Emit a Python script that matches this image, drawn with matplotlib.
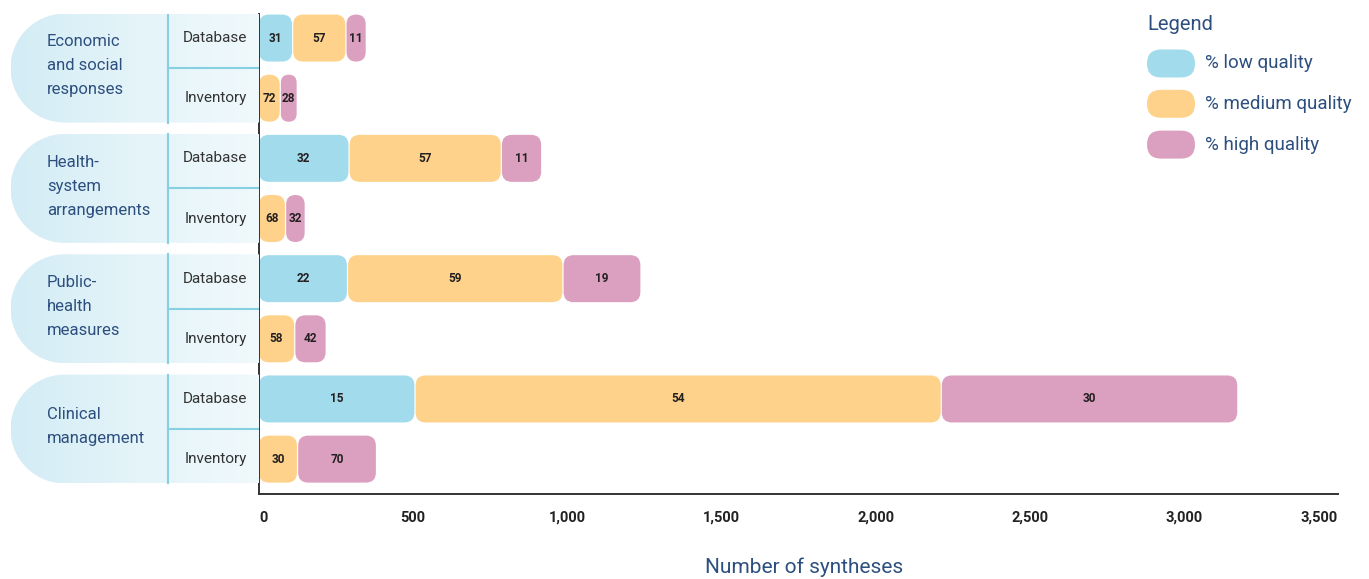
import numpy as np
import matplotlib
matplotlib.use("Agg")
import matplotlib.pyplot as plt
from matplotlib.patches import FancyBboxPatch, Polygon
from matplotlib.colors import LinearSegmentedColormap

plt.rcParams["font.family"] = ["Roboto", "DejaVu Sans"]

# data (segment lengths in number of syntheses)
groups = ["Economic\nand social\nresponses", "Health-\nsystem\narrangements",
          "Public-\nhealth\nmeasures", "Clinical\nmanagement"]
sources = ["Database", "Inventory"]
low = [111, 0, 294, 0, 289, 0, 508, 0]
medium = [173, 71, 494, 88, 699, 118, 1707, 127]
high = [66, 55, 131, 64, 253, 102, 962, 256]
low_pct = [31, None, 32, None, 22, None, 15, None]
medium_pct = [57, 72, 57, 68, 59, 58, 54, 30]
high_pct = [11, 28, 11, 32, 19, 42, 30, 70]
series_names = ["% low quality", "% medium quality", "% high quality"]
xticks = [0, 500, 1000, 1500, 2000, 2500, 3000, 3500]
xtick_labels = ["0", "500", "1,000", "1,500", "2,000", "2,500", "3,000", "3,500"]

colors = ["#a2dcec", "#fed28a", "#dba0c0"]
dark_blue = "#2d4f7f"

W, H = 1369, 579
fig = plt.figure(figsize=(W / 100, H / 100), dpi=100)

# overlay in pixel coords for legend
ov = fig.add_axes([0, 0, 1, 1])
ov.set_xlim(0, W)
ov.set_ylim(H, 0)
ov.axis("off")

ax_left, ax_right, ax_top, ax_bot = 259, 1338, 14, 494
ax = fig.add_axes([ax_left / W, 1 - ax_bot / H, (ax_right - ax_left) / W, (ax_bot - ax_top) / H])
ax.set_xlim(0, 3500)
ax.set_ylim(7.58, -0.40)
ax.patch.set_alpha(0)

px_x = 3500 / (ax_right - ax_left)        # data units per pixel in x
px_y = (7.58 + 0.40) / (ax_bot - ax_top)  # rows per pixel
aspect = px_y / px_x
radius = 10 * px_x
bar_h = 47 * px_y
gap = 1.2 * px_x

n = len(medium)
for i in range(n):
    left = 0
    vals = [low[i], medium[i], high[i]]
    labs = [low_pct[i], medium_pct[i], high_pct[i]]
    for v, lab, c in zip(vals, labs, colors):
        if v <= 0:
            continue
        w = v - gap
        rs = min(radius, w / 2)
        p = FancyBboxPatch((left, i - bar_h / 2), w, bar_h,
                           boxstyle="round,pad=0,rounding_size=%f" % rs,
                           mutation_aspect=aspect, fc=c, ec="none", zorder=3)
        ax.add_patch(p)
        ax.text(left + w / 2, i, str(lab), ha="center", va="center",
                fontsize=8.5, fontweight="bold", color="#231f20", zorder=4)
        left += v

ax.set_yticks([])
ax.set_xticks(xticks)
ax.set_xticklabels(xtick_labels, fontsize=10.5, fontweight="bold", color="#222222")
ax.tick_params(axis="x", length=0, pad=12)
tl = ax.get_xticklabels()
tl[0].set_ha("left")
tl[-1].set_ha("right")
for s in ["top", "right"]:
    ax.spines[s].set_visible(False)
for s in ["left", "bottom"]:
    ax.spines[s].set_color("#333333")
    ax.spines[s].set_linewidth(1.4)
    ax.spines[s].set_zorder(5)
ax.set_xlabel("Number of syntheses", fontsize=15, color=dark_blue)
ax.xaxis.set_label_coords(0.505, -0.132)

# left panel with group / source labels
lp = fig.add_axes([0, 1 - ax_bot / H, ax_left / W, (ax_bot - ax_top) / H], sharey=ax)
lp.set_xlim(0, ax_left)
lp.axis("off")

grad = LinearSegmentedColormap.from_list("g", ["#d3ecf5", "#e4f4f9", "#f0f9fc"])
half = 0.905
rx = 54
x0 = 10.5
for g, label in enumerate(groups):
    mid = 2 * g + 0.5
    top, bot = mid - half, mid + half
    t = np.linspace(np.pi / 2, 3 * np.pi / 2, 60)
    arc = np.column_stack([x0 + rx + rx * np.cos(t), mid - half * np.sin(t)])
    pts = np.vstack([[ax_left, top], arc, [ax_left, bot]])
    shape = Polygon(pts, closed=True, fc="none", ec="none")
    lp.add_patch(shape)
    im = lp.imshow(np.linspace(0, 1, 256)[None, :], cmap=grad, aspect="auto",
                   extent=(x0, ax_left, bot, top), zorder=1)
    im.set_clip_path(shape)
    lp.plot([168, 168], [top, bot], color="#86d0e2", lw=1.5, zorder=2)
    lp.plot([168, ax_left], [mid, mid], color="#86d0e2", lw=1.5, zorder=2)
    lp.text(47, mid - 0.04, label, ha="left", va="center", fontsize=12,
            color=dark_blue, linespacing=1.75, zorder=3)
    for k, src in enumerate(sources):
        lp.text(247, 2 * g + k, src, ha="right", va="center", fontsize=11,
                color="#333333", zorder=3)
lp.set_ylim(7.58, -0.40)

# legend
ov.text(1147, 24, "Legend", fontsize=14.5, color=dark_blue, va="center", ha="left")
leg_y = [63.5, 103.8, 144.6]
for name, c, yc in zip(series_names, colors, leg_y):
    ov.add_patch(FancyBboxPatch((1147, yc - 14), 48, 28,
                                boxstyle="round,pad=0,rounding_size=14",
                                fc=c, ec="none"))
    ov.text(1205, yc, name, fontsize=13.5, color=dark_blue, va="center", ha="left")

fig.savefig("out.png", dpi=100)
